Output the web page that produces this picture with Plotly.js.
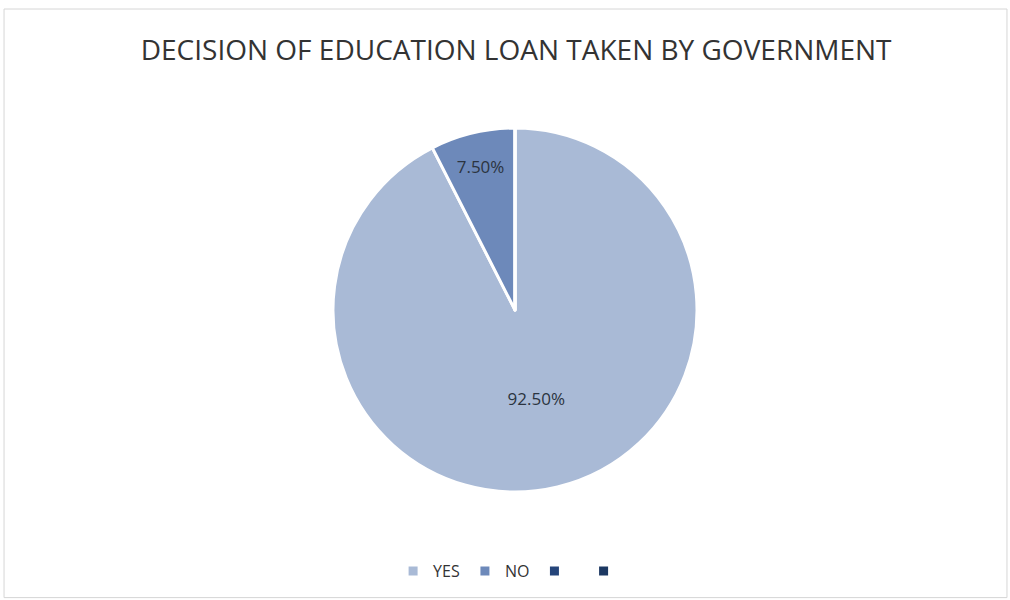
<!DOCTYPE html>
<html>
<head>
<meta charset="utf-8">
<script src="https://cdn.plot.ly/plotly-3.0.1.min.js"></script>
<style>html,body{margin:0;padding:0;background:#fff;}#chart{width:1010px;height:600px;}</style>
</head>
<body>
<div id="chart"></div>
<script>
const categories = ["YES", "NO", " ", "  "];
const shares = [92.5, 7.5, 0, 0];
const sliceColors = ["#a9bad6", "#6d89ba", "#25457a", "#1c3862"];
const chartTitle = "DECISION OF EDUCATION LOAN TAKEN BY GOVERNMENT";

const cx = 515, cy = 310, r = 182, W = 1010, H = 600;
const trace = {
  type: "pie",
  labels: categories,
  values: shares,
  sort: false,
  direction: "clockwise",
  rotation: 0,
  marker: {colors: sliceColors, line: {color: "#ffffff", width: 3}},
  texttemplate: "%{percent:.2%}",
  textposition: "inside",
  insidetextorientation: "horizontal",
  textfont: {family: "Open Sans, sans-serif", size: 17, color: "#2b3440"},
  hoverinfo: "label+percent",
  showlegend: true,
  domain: {x: [(cx - r) / W, (cx + r) / W], y: [1 - (cy + r) / H, 1 - (cy - r) / H]}
};
const layout = {
  width: W, height: H,
  margin: {l: 0, r: 0, t: 0, b: 0},
  paper_bgcolor: "#ffffff",
  title: {text: chartTitle, x: 0.511, xanchor: "center", y: 1 - 50 / H, yanchor: "middle",
          font: {family: "Open Sans, sans-serif", size: 28, color: "#333333"}},
  legend: {orientation: "h", x: 0.51, xanchor: "center", y: 1 - 571 / H, yanchor: "middle",
           font: {family: "Open Sans, sans-serif", size: 16, color: "#333333"},
           itemwidth: 30, traceorder: "normal"},
  shapes: [{type: "rect", xref: "paper", yref: "paper", x0: 0.004, x1: 0.997, y0: 0.004, y1: 0.985,
            line: {color: "#d6d6d6", width: 1}}]
};
Plotly.newPlot("chart", [trace], layout, {displayModeBar: false});
</script>
</body>
</html>
